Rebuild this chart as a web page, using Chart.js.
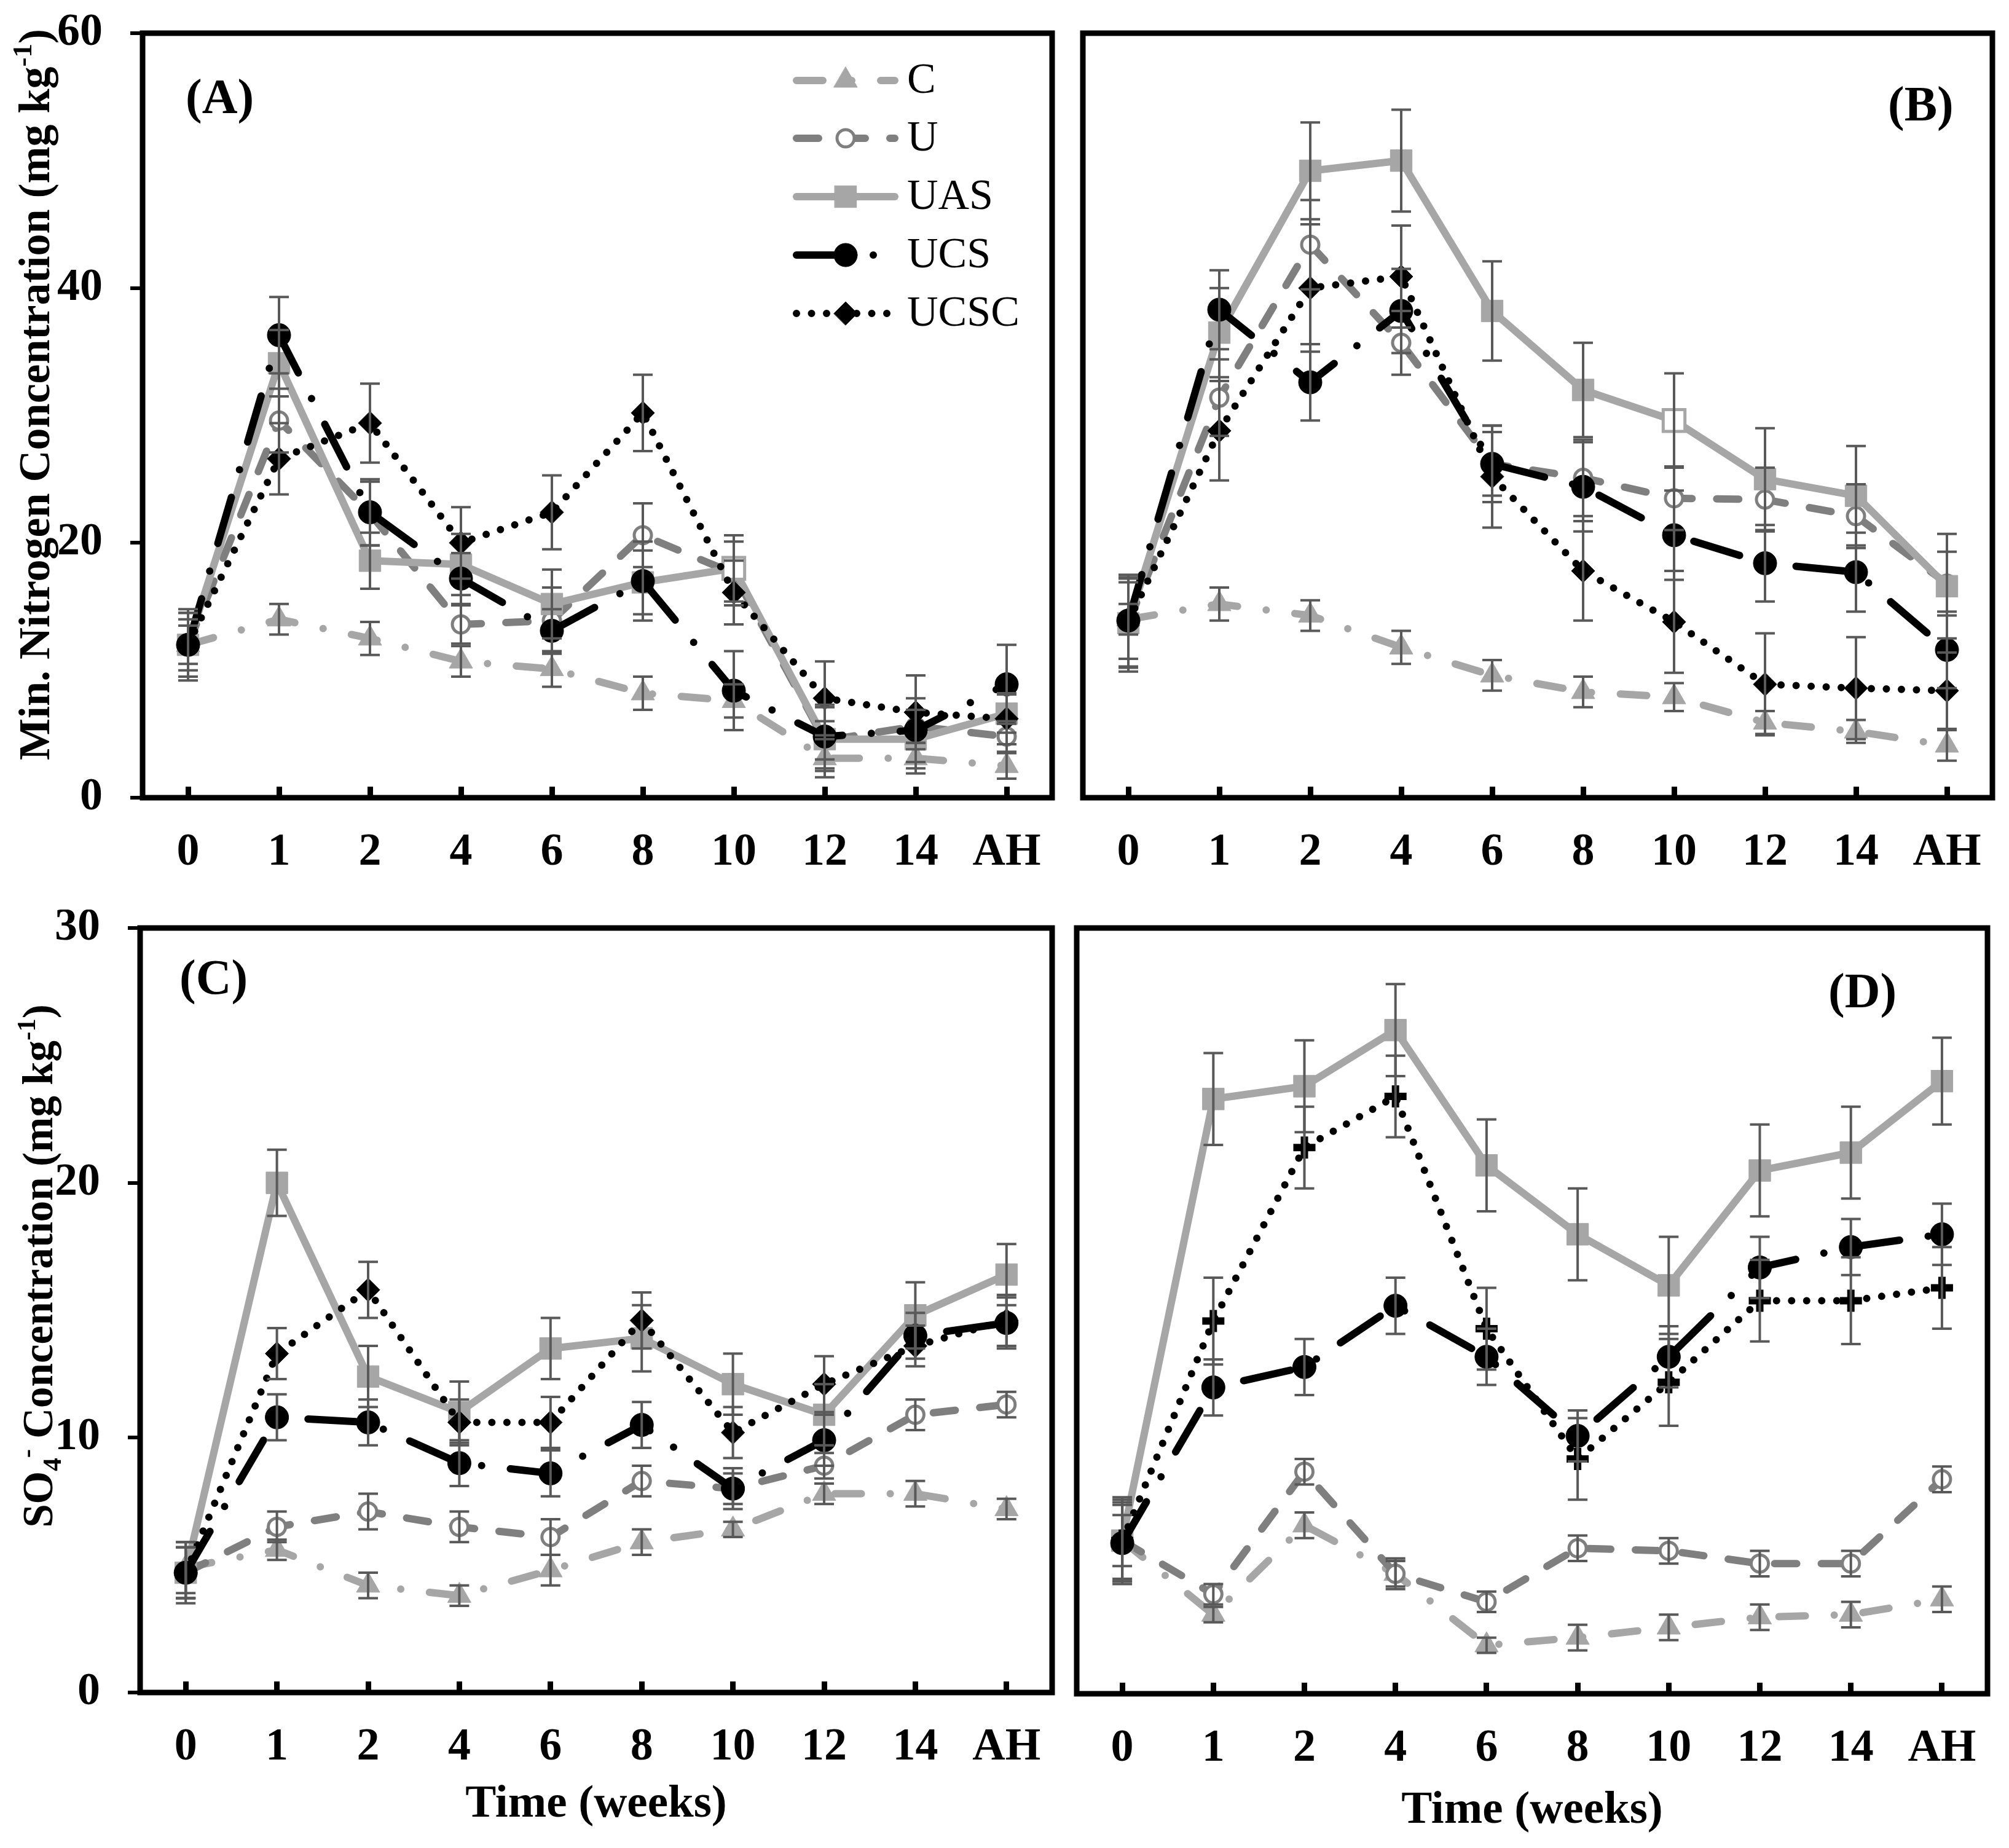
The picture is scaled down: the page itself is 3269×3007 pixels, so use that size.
<!DOCTYPE html>
<html>
<head>
<meta charset="utf-8">
<script src="https://cdn.jsdelivr.net/npm/chart.js@4.4.1/dist/chart.umd.min.js"></script>
<style>
  html, body { margin: 0; padding: 0; background: #fff; }
  #page { position: relative; width: 3269px; height: 3007px; overflow: hidden; background: #fff; }
  #page canvas { position: absolute; }
</style>
</head>
<body>
<div id="page">
  <canvas id="chart-a" width="1740" height="1480" style="left:0px;top:0px"></canvas>
  <canvas id="chart-b" width="1529" height="1480" style="left:1740px;top:0px"></canvas>
  <canvas id="chart-c" width="1740" height="1527" style="left:0px;top:1480px"></canvas>
  <canvas id="chart-d" width="1529" height="1527" style="left:1740px;top:1480px"></canvas>
</div>
<script>
const weeks = ["0", "1", "2", "4", "6", "8", "10", "12", "14", "AH"];
const seriesNames = ["C", "U", "UAS", "UCS", "UCSC"];

// (A) min. nitrogen
const panelA_C = [12.0, 14.0, 12.5, 10.7, 10.1, 8.2, 7.6, 3.1, 3.1, 2.5];
const panelA_U = [12.0, 29.6, 22.3, 13.6, 13.9, 20.6, 17.6, 4.5, 5.6, 4.8];
const panelA_UAS = [12.0, 34.1, 18.6, 18.3, 15.2, 16.9, 18.0, 4.6, 4.6, 6.6];
const panelA_UCS = [12.0, 36.3, 22.4, 17.2, 13.1, 17.0, 8.4, 4.8, 5.3, 8.9];
const panelA_UCSC = [12.0, 26.6, 29.4, 20.0, 22.4, 30.2, 16.1, 7.8, 6.7, 6.2];
const panelA_C_err = [1.5, 1.2, 1.3, 1.2, 1.4, 1.3, 1.3, 1.5, 1.2, 1.0];
const panelA_U_err = [2.0, 2.5, 2.5, 1.5, 2.6, 2.5, 2.5, 1.5, 1.3, 1.2];
const panelA_UAS_err = [2.8, 2.6, 2.2, 2.4, 2.7, 2.5, 2.6, 2.5, 2.3, 1.5];
const panelA_UCS_err = [2.5, 3.0, 2.6, 2.0, 1.7, 3.1, 3.1, 2.5, 2.5, 3.1];
const panelA_UCSC_err = [2.5, 2.8, 3.1, 2.8, 2.9, 3.0, 2.5, 2.9, 2.9, 2.0];

// (B) min. nitrogen
const panelB_C = [14.0, 15.2, 14.3, 11.8, 9.6, 8.3, 7.9, 5.9, 5.2, 4.1];
const panelB_U = [13.7, 31.4, 43.4, 35.7, 26.2, 25.1, 23.5, 23.4, 22.1, 16.8];
const panelB_UAS = [13.7, 36.5, 49.2, 50.0, 38.2, 32.0, 29.6, 25.0, 23.7, 16.6];
const panelB_UCS = [13.9, 38.3, 32.6, 38.2, 26.2, 24.4, 20.6, 18.4, 17.7, 11.6];
const panelB_UCSC = [13.8, 28.8, 40.0, 40.9, 25.2, 17.8, 13.8, 8.9, 8.6, 8.4];
const panelB_C_err = [1.2, 1.3, 1.2, 1.3, 1.2, 1.2, 1.1, 0.9, 0.9, 1.2];
const panelB_U_err = [3.5, 3.0, 3.5, 2.5, 3.0, 3.0, 2.5, 2.5, 2.5, 2.5];
const panelB_UAS_err = [3.8, 3.5, 3.8, 4.0, 3.9, 3.7, 3.7, 4.0, 3.9, 4.1];
const panelB_UCS_err = [3.0, 3.1, 3.0, 3.3, 2.5, 3.5, 3.5, 3.0, 3.1, 3.0];
const panelB_UCSC_err = [3.5, 3.9, 5.0, 4.0, 4.0, 3.9, 4.0, 4.0, 4.0, 3.0];

// (C) sulphate
const panelC_C = [4.9, 5.6, 4.2, 3.8, 4.8, 5.9, 6.4, 7.8, 7.8, 7.2];
const panelC_U = [4.7, 6.5, 7.1, 6.5, 6.1, 8.3, 8.0, 8.9, 10.9, 11.3];
const panelC_UAS = [4.7, 20.0, 12.4, 11.0, 13.5, 13.9, 12.1, 10.9, 14.8, 16.4];
const panelC_UCS = [4.7, 10.8, 10.6, 9.0, 8.6, 10.5, 8.0, 9.9, 14.0, 14.5];
const panelC_UCSC = [4.7, 13.3, 15.8, 10.6, 10.6, 14.6, 10.2, 12.1, 13.6, 14.6];
const panelC_C_err = [1.0, 0.4, 0.5, 0.4, 0.6, 0.5, 0.3, 0.4, 0.5, 0.4];
const panelC_U_err = [1.0, 0.6, 0.7, 0.6, 0.7, 0.6, 0.6, 0.5, 0.6, 0.5];
const panelC_UAS_err = [1.2, 1.3, 1.2, 1.2, 1.2, 1.3, 1.2, 1.2, 1.3, 1.2];
const panelC_UCS_err = [1.0, 0.9, 0.9, 0.9, 0.9, 0.9, 0.8, 1.0, 0.9, 1.0];
const panelC_UCSC_err = [1.0, 1.0, 1.1, 0.9, 1.0, 1.1, 1.0, 1.1, 0.8, 1.0];

// (D) sulphate
const panelD_C = [6.0, 3.1, 6.6, 4.7, 1.9, 2.2, 2.6, 3.0, 3.1, 3.7];
const panelD_U = [6.0, 3.9, 8.7, 4.7, 3.6, 5.7, 5.6, 5.1, 5.1, 8.4];
const panelD_UAS = [6.0, 23.3, 23.8, 26.0, 20.7, 18.0, 16.0, 20.5, 21.2, 24.0];
const panelD_UCS = [5.9, 12.0, 12.8, 15.2, 13.2, 10.1, 13.2, 16.7, 17.5, 18.0];
const panelD_UCSC = [6.0, 14.6, 21.4, 23.4, 14.3, 9.2, 12.2, 15.4, 15.4, 15.9];
const panelD_C_err = [1.0, 0.3, 0.5, 0.5, 0.3, 0.5, 0.5, 0.5, 0.5, 0.5];
const panelD_U_err = [1.5, 0.4, 0.5, 0.6, 0.4, 0.5, 0.5, 0.5, 0.5, 0.5];
const panelD_UAS_err = [1.7, 1.8, 1.8, 1.8, 1.8, 1.8, 1.9, 1.8, 1.8, 1.7];
const panelD_UCS_err = [1.5, 1.1, 1.1, 1.1, 1.1, 1.0, 1.2, 1.2, 1.1, 1.2];
const panelD_UCSC_err = [1.6, 1.7, 1.6, 1.6, 1.6, 1.6, 1.7, 1.6, 1.7, 1.6];

const FONT = "'Times New Roman', 'Liberation Serif', serif";
const LIGHT = "#a6a6a6";
const DARK = "#7f7f7f";
const BAR = "#595959";

const seriesStyle = {
  C: { color: LIGHT, dash: [43, 47, 0, 47], point: "triangle", radius: 22, fill: LIGHT, pbw: 1, order: 4 },
  U: { color: DARK, dash: [36, 40], point: "circle", radius: 14, fill: "#fff", pbw: 5, order: 3 },
  UAS: { color: LIGHT, dash: [], point: "rect", radius: 25, fill: LIGHT, pbw: 1, order: 2 },
  UCS: { color: "#000", dash: [78, 47, 0, 47], point: "circle", radius: 19, fill: "#000", pbw: 1, order: 1 },
  UCSC: { color: "#000", dash: [0, 24.5], point: "rectRot", radius: 19, fill: "#000", pbw: 1, order: 0 },
};

const nitroTitle = [
  { t: "Min. Nitrogen Concentration (mg kg" },
  { t: "-1", sup: true },
  { t: ")" },
];
const sulphTitle = [
  { t: "SO" },
  { t: "4", sub: true },
  { t: "-", sup: true },
  { t: " Concentration (mg kg" },
  { t: "-1", sup: true },
  { t: ")" },
];

const panels = [
  {
    id: "chart-a", yMax: 60, yStep: 20, yLabels: true, axisW: 232, axisH: 182, padTop: 54, padRight: 28,
    series: [panelA_C, panelA_U, panelA_UAS, panelA_UCS, panelA_UCSC],
    errors: [panelA_C_err, panelA_U_err, panelA_UAS_err, panelA_UCS_err, panelA_UCSC_err],
    label: "(A)", lx: 302, ly: 163, title: nitroTitle, tx: 56, ty: 642, titleSize: 72,
    legend: true, openIdx: 6, xTitle: false,
  },
  {
    id: "chart-b", yMax: 60, yStep: 20, yLabels: false, axisW: 22, axisH: 182, padTop: 54, padRight: 27,
    series: [panelB_C, panelB_U, panelB_UAS, panelB_UCS, panelB_UCSC],
    errors: [panelB_C_err, panelB_U_err, panelB_UAS_err, panelB_UCS_err, panelB_UCSC_err],
    label: "(B)", lx: 1332, ly: 175, openIdx: 6, xTitle: false,
  },
  {
    id: "chart-c", yMax: 30, yStep: 10, yLabels: true, axisW: 228, axisH: 253, padTop: 30, padRight: 28,
    series: [panelC_C, panelC_U, panelC_UAS, panelC_UCS, panelC_UCSC],
    errors: [panelC_C_err, panelC_U_err, panelC_UAS_err, panelC_UCS_err, panelC_UCSC_err],
    label: "(C)", lx: 292, ly: 116, title: sulphTitle, tx: 62, ty: 580, titleSize: 69,
    openIdx: -1, xTitle: true, xTitlePad: 25,
  },
  {
    id: "chart-d", yMax: 30, yStep: 10, yLabels: false, axisW: 12, axisH: 251, padTop: 30, padRight: 35,
    series: [panelD_C, panelD_U, panelD_UAS, panelD_UCS, panelD_UCSC],
    errors: [panelD_C_err, panelD_U_err, panelD_UAS_err, panelD_UCS_err, panelD_UCSC_err],
    label: "(D)", lx: 1235, ly: 138, openIdx: -1, xTitle: true, xTitlePad: 15, starMarks: true,
  },
];

const drawRich = (ctx, parts, size, cx, cy) => {
  ctx.save();
  ctx.translate(cx, cy);
  ctx.rotate(-Math.PI / 2);
  const fontFor = (p) => `bold ${p.sup || p.sub ? Math.round(size * 0.62) : size}px ${FONT}`;
  let total = 0;
  parts.forEach((p) => {
    ctx.font = fontFor(p);
    total += ctx.measureText(p.t).width;
  });
  let x = -total / 2;
  const base = size * 0.33;
  ctx.fillStyle = "#000";
  ctx.textAlign = "left";
  ctx.textBaseline = "alphabetic";
  parts.forEach((p) => {
    ctx.font = fontFor(p);
    const dy = p.sup ? -size * 0.4 : p.sub ? size * 0.2 : 0;
    ctx.fillText(p.t, x, base + dy);
    x += ctx.measureText(p.t).width;
  });
  ctx.restore();
};

const errorBars = {
  id: "errorBars",
  afterDatasetsDraw(chart) {
    const { ctx } = chart;
    const yScale = chart.scales.y;
    ctx.save();
    ctx.strokeStyle = BAR;
    ctx.lineWidth = 4;
    ctx.setLineDash([]);
    chart.data.datasets.forEach((ds, i) => {
      const meta = chart.getDatasetMeta(i);
      meta.data.forEach((pt, j) => {
        const v = ds.data[j];
        const e = ds.errors[j];
        const top = yScale.getPixelForValue(v + e);
        const bot = yScale.getPixelForValue(Math.max(0, v - e));
        ctx.beginPath();
        ctx.moveTo(pt.x, top);
        ctx.lineTo(pt.x, bot);
        ctx.moveTo(pt.x - 16, top);
        ctx.lineTo(pt.x + 16, top);
        ctx.moveTo(pt.x - 16, bot);
        ctx.lineTo(pt.x + 16, bot);
        ctx.stroke();
      });
    });
    ctx.restore();
  },
};

const panelDecor = {
  id: "panelDecor",
  afterDraw(chart, args, opts) {
    const { ctx, chartArea } = chart;
    const p = opts.panel;
    ctx.save();
    // plot frame
    ctx.strokeStyle = "#000";
    ctx.lineWidth = 9;
    ctx.setLineDash([]);
    ctx.strokeRect(chartArea.left, chartArea.top, chartArea.right - chartArea.left, chartArea.bottom - chartArea.top);

    ctx.fillStyle = "#000";
    ctx.font = `bold 80px ${FONT}`;
    ctx.textAlign = "left";
    ctx.textBaseline = "middle";
    ctx.fillText(p.label, p.lx, p.ly);

    if (p.title) drawRich(ctx, p.title, p.titleSize, p.tx, p.ty);

    if (p.legend) {
      const rows = [131, 225, 320, 415, 510];
      chart.data.datasets.forEach((ds, i) => {
        const y = rows[i];
        ctx.save();
        ctx.strokeStyle = ds.borderColor;
        ctx.lineWidth = ds.borderWidth;
        ctx.lineCap = "round";
        ctx.setLineDash(ds.borderDash);
        ctx.beginPath();
        ctx.moveTo(1296, y);
        ctx.lineTo(1456, y);
        ctx.stroke();
        ctx.setLineDash([]);
        ctx.fillStyle = ds.legendFill;
        ctx.strokeStyle = ds.borderColor;
        ctx.lineWidth = ds.legendBorder;
        Chart.helpers.drawPoint(ctx, { pointStyle: ds.pointStyle, radius: ds.pointRadius, rotation: 0, borderWidth: ds.legendBorder }, 1376, y);
        ctx.restore();
        ctx.fillStyle = "#000";
        ctx.font = `70px ${FONT}`;
        ctx.textAlign = "left";
        ctx.textBaseline = "middle";
        ctx.fillText(ds.label, 1476, y + 2);
      });
    }
    ctx.restore();
  },
};

const tickFont = { family: FONT, size: 74, weight: "bold" };

panels.forEach((p) => {
  const datasets = seriesNames.map((name, i) => {
    const st = seriesStyle[name];
    const isStar = p.starMarks && name === "UCSC";
    return {
      label: name,
      data: p.series[i],
      errors: p.errors[i],
      order: st.order,
      borderColor: st.color,
      borderWidth: 12,
      borderDash: st.dash,
      borderCapStyle: "round",
      borderJoinStyle: "round",
      tension: 0,
      fill: false,
      pointStyle: isStar ? "cross" : st.point,
      pointRadius: isStar ? 18 : st.radius,
      pointBorderColor: st.color,
      pointBackgroundColor: (c) => (name === "UAS" && c.dataIndex === p.openIdx ? "#fff" : st.fill),
      pointBorderWidth: (c) => (isStar ? 12 : name === "UAS" && c.dataIndex === p.openIdx ? 5 : st.pbw),
      legendFill: st.fill,
      legendBorder: st.pbw,
    };
  });

  new Chart(document.getElementById(p.id), {
    type: "line",
    data: { labels: weeks, datasets },
    options: {
      responsive: false,
      animation: false,
      devicePixelRatio: 1,
      layout: { autoPadding: false, padding: { top: p.padTop, right: p.padRight, left: 0, bottom: 0 } },
      plugins: {
        legend: { display: false },
        tooltip: { enabled: false },
        panelDecor: { panel: p },
      },
      scales: {
        x: {
          type: "category",
          offset: true,
          grid: { drawOnChartArea: false, drawTicks: true, tickLength: -18, color: "#000", lineWidth: 9 },
          border: { display: false },
          ticks: { font: tickFont, color: "#000", padding: 63, autoSkip: false, maxRotation: 0 },
          title: {
            display: p.xTitle,
            text: "Time (weeks)",
            color: "#000",
            font: { family: FONT, size: 75, weight: "bold" },
            padding: { top: 0, bottom: p.xTitlePad || 0 },
          },
          afterFit: (s) => {
            s.height = p.axisH;
            s.paddingLeft = 0;
            s.paddingRight = 0;
          },
        },
        y: {
          min: 0,
          max: p.yMax,
          ticks: { display: p.yLabels, stepSize: p.yStep, font: tickFont, color: "#000", padding: 45 },
          grid: { display: p.yLabels, drawOnChartArea: false, tickLength: 20, color: "#000", lineWidth: 6 },
          border: { display: false },
          afterFit: (s) => {
            s.width = p.axisW;
            s.paddingTop = 0;
            s.paddingBottom = 0;
          },
        },
      },
    },
    plugins: [errorBars, panelDecor],
  });
});
</script>
</body>
</html>
